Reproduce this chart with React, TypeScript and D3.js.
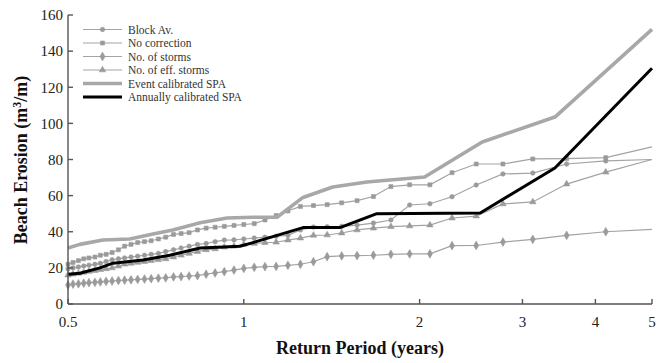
import React from "react";
import * as d3 from "d3";

// Return periods (years) for the marker series
const returnPeriods = [
  0.5, 0.51, 0.521, 0.532, 0.543, 0.556, 0.568, 0.581, 0.595, 0.61, 0.625, 0.641,
  0.658, 0.676, 0.694, 0.714, 0.735, 0.758, 0.781, 0.806, 0.833, 0.862, 0.893,
  0.926, 0.962, 1.0, 1.042, 1.087, 1.136, 1.19, 1.25, 1.316, 1.389, 1.471, 1.563,
  1.667, 1.786, 1.923, 2.083, 2.273, 2.5, 2.778, 3.125, 3.571, 4.167, 5.0,
];

const blockAv = [
  19.5, 20, 20.5, 21, 21.5, 22, 22.5, 23.5, 24.5, 25, 25.5, 26, 26.5, 27, 27.5, 28,
  29, 30, 31, 32, 33, 33.5, 34.5, 35.4, 35.5, 36, 36.5, 37, 37.5, 38, 41, 42.6, 42.8,
  43, 43.7, 44.8, 46.5, 54.8, 55.5, 59.4, 65.9, 72, 72.5, 77.5, 79.2, 80,
];

const noCorrection = [
  22, 23, 24, 25, 25.5, 26, 27, 27.5, 28.5, 30, 32, 33, 34, 34.5, 35, 36, 37, 38.5,
  39, 39.5, 41, 42, 42.5, 43, 43.5, 44, 44.5, 46.5, 49, 51.5, 54, 54.5, 55, 56, 57.2,
  59.5, 65, 66, 66, 72.7, 77.5, 77.5, 80.3, 80.5, 81, 87,
];

const noStorms = [
  10.5, 11, 11.2, 11.5, 11.8, 12, 12.2, 12.5, 12.7, 13, 13.2, 13.4, 13.6, 13.8, 14,
  14.3, 14.5, 15, 15.2, 15.5, 15.7, 16.5, 17.2, 17.9, 18.8, 19.7, 20.3, 20.7, 20.8,
  21.4, 22, 23.4, 26.2, 26.6, 26.8, 27, 27.5, 27.7, 27.8, 32.3, 32.4, 34.3, 35.8, 38,
  40, 41.3,
];

const effStorms = [
  16, 16.5, 17, 17.5, 18, 18.5, 19, 19.5, 20, 21, 22, 22.5, 23, 23.5, 24, 24.5, 25,
  26, 27, 28, 29, 30, 30.5, 31.5, 32, 33, 33.5, 34, 34.2, 35.4, 36.5, 38, 38.2, 39.3,
  41, 42, 42.8, 43.2, 43.7, 47.6, 48.7, 55.4, 56.5, 66.4, 73, 80,
];

// SPA curves: their own return periods and erosion values
const eventSpaPeriods = [
  0.5, 0.524, 0.574, 0.638, 0.699, 0.756, 0.842, 0.936, 1.037, 1.14, 1.263, 1.42,
  1.625, 2.04, 2.56, 3.41, 5.0,
];
const eventSpa = [31, 33, 35.4, 36, 38.8, 41, 45, 47.6, 48, 48, 59, 64.8, 67.5, 70.3, 89.7, 103.5, 152];

const annualSpaPeriods = [
  0.5, 0.524, 0.567, 0.597, 0.672, 0.747, 0.842, 0.985, 1.037, 1.263, 1.461, 1.69,
  2.54, 3.41, 5.0,
];
const annualSpa = [16.5, 17, 20, 22.6, 24.4, 27, 31, 32, 34, 42.3, 42.3, 50, 50.4, 75.3, 130.5];

const xTicks = [0.5, 1, 2, 3, 4, 5];
const xTickLabels = ["0.5", "1", "2", "3", "4", "5"];
const yTicks = [0, 20, 40, 60, 80, 100, 120, 140, 160];

const legendLabels = [
  "Block Av.",
  "No correction",
  "No. of storms",
  "No. of eff. storms",
  "Event calibrated SPA",
  "Annually calibrated SPA",
];

const W = 658;
const H = 363;
const serif = "'Liberation Serif', 'Times New Roman', serif";
const thinGray = "#a3a3a3";
const markGray = "#9a9a9a";

type Series = {
  label: string;
  values: number[];
  symbol: d3.SymbolType;
  size: number;
};

const markerSeries: Series[] = [
  { label: legendLabels[0], values: blockAv, symbol: d3.symbolCircle, size: 16 },
  { label: legendLabels[1], values: noCorrection, symbol: d3.symbolSquare, size: 16 },
  { label: legendLabels[2], values: noStorms, symbol: d3.symbolDiamond, size: 22 },
  { label: legendLabels[3], values: effStorms, symbol: d3.symbolTriangle, size: 18 },
];

export default function App() {
  const x = d3.scaleLog().domain([0.5, 5]).range([68, 652]);
  const y = d3.scaleLinear().domain([0, 160]).range([304, 15]);

  const line = (xs: number[], ys: number[]) =>
    d3
      .line<number>()
      .x((_, i) => x(xs[i]))
      .y((v) => y(v))(ys) || "";

  const legendX0 = 83;
  const legendX1 = 122;
  const legendTextX = 128;
  const legendY = (i: number) => 29.5 + i * 13.5;

  return (
    <svg
      width={W}
      height={H}
      style={{ position: "absolute", left: 0, top: 0, background: "#fff" }}
    >
      {/* marker series */}
      {markerSeries.map((s) => (
        <g key={s.label}>
          <path d={line(returnPeriods, s.values)} fill="none" stroke={thinGray} strokeWidth={1.2} />
          {s.values.slice(0, -1).map((v, i) => (
            <path
              key={i}
              transform={`translate(${x(returnPeriods[i])},${y(v)})`}
              d={d3.symbol(s.symbol, s.size)() || ""}
              fill={markGray}
              stroke={markGray}
              strokeWidth={0.6}
            />
          ))}
        </g>
      ))}

      {/* SPA curves */}
      <path d={line(eventSpaPeriods, eventSpa)} fill="none" stroke="#a8a8a8" strokeWidth={3.6} strokeLinejoin="round" />
      <path d={line(annualSpaPeriods, annualSpa)} fill="none" stroke="#000" strokeWidth={3} strokeLinejoin="round" />

      {/* axes */}
      <g stroke="#555" strokeWidth={1.4} fill="none">
        <line x1={68} x2={68} y1={y(160)} y2={y(0)} />
        <line x1={68} x2={652} y1={y(0)} y2={y(0)} />
        {yTicks.map((t) => (
          <line key={t} x1={68} x2={73} y1={y(t)} y2={y(t)} />
        ))}
        {xTicks.map((t) => (
          <line key={t} x1={x(t)} x2={x(t)} y1={y(0)} y2={y(0) - 5} />
        ))}
      </g>
      {yTicks.map((t) => (
        <text
          key={t}
          x={63}
          y={y(t)}
          dy="0.35em"
          textAnchor="end"
          fontFamily={serif}
          fontSize={15}
          fill="#222"
        >
          {t}
        </text>
      ))}
      {xTicks.map((t, i) => (
        <text
          key={t}
          x={x(t)}
          y={327}
          textAnchor="middle"
          fontFamily={serif}
          fontSize={15}
          fill="#222"
        >
          {xTickLabels[i]}
        </text>
      ))}

      {/* axis titles */}
      <text
        x={360}
        y={354}
        textAnchor="middle"
        fontFamily={serif}
        fontSize={18}
        fontWeight="bold"
        fill="#111"
      >
        Return Period (years)
      </text>
      <text
        transform="translate(27,160) rotate(-90)"
        textAnchor="middle"
        fontFamily={serif}
        fontSize={18}
        fontWeight="bold"
        fill="#111"
      >
        Beach Erosion (m<tspan dy={-6} fontSize={12}>3</tspan>
        <tspan dy={6}>/m)</tspan>
      </text>

      {/* legend */}
      {markerSeries.map((s, i) => (
        <g key={s.label}>
          <line x1={legendX0} x2={legendX1} y1={legendY(i)} y2={legendY(i)} stroke={thinGray} strokeWidth={1.2} />
          <path
            transform={`translate(${(legendX0 + legendX1) / 2},${legendY(i)})`}
            d={d3.symbol(s.symbol, s.size)() || ""}
            fill={markGray}
            stroke={markGray}
            strokeWidth={0.6}
          />
        </g>
      ))}
      <line x1={legendX0} x2={legendX1} y1={legendY(4)} y2={legendY(4)} stroke="#a8a8a8" strokeWidth={3.6} />
      <line x1={legendX0} x2={legendX1} y1={legendY(5)} y2={legendY(5)} stroke="#000" strokeWidth={3} />
      {legendLabels.map((l, i) => (
        <text
          key={l}
          x={legendTextX}
          y={legendY(i)}
          dy="0.35em"
          fontFamily={serif}
          fontSize={11.5}
          fill="#333"
        >
          {l}
        </text>
      ))}
    </svg>
  );
}
